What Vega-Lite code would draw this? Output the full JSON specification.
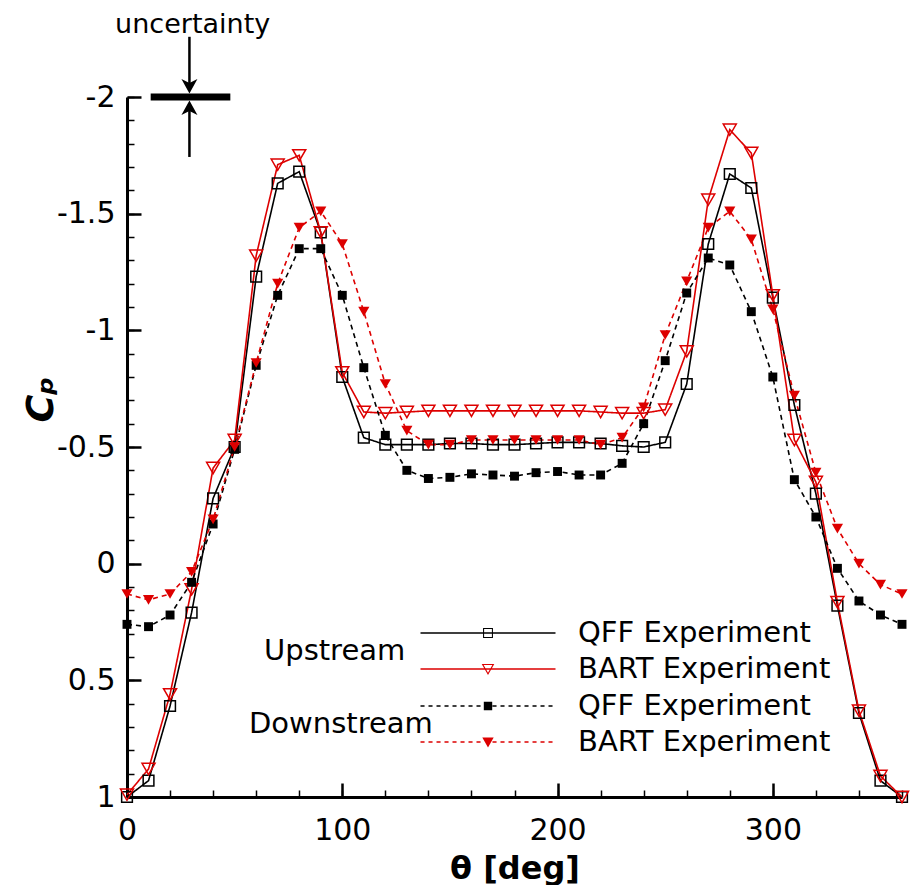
{
  "$schema": "https://vega.github.io/schema/vega-lite/v6.json",
  "width": 775,
  "height": 700,
  "autosize": "none",
  "padding": {"left": 127, "top": 97, "right": 12, "bottom": 88},
  "background": "white",
  "config": {"view": {"stroke": null}, "font": "DejaVu Sans"},
  "datasets": {
    "cp": [
      {"theta":0,"cp":1.0,"source":"QFF Experiment","location":"Upstream"},
      {"theta":10,"cp":0.93,"source":"QFF Experiment","location":"Upstream"},
      {"theta":20,"cp":0.61,"source":"QFF Experiment","location":"Upstream"},
      {"theta":30,"cp":0.21,"source":"QFF Experiment","location":"Upstream"},
      {"theta":40,"cp":-0.28,"source":"QFF Experiment","location":"Upstream"},
      {"theta":50,"cp":-0.5,"source":"QFF Experiment","location":"Upstream"},
      {"theta":60,"cp":-1.23,"source":"QFF Experiment","location":"Upstream"},
      {"theta":70,"cp":-1.63,"source":"QFF Experiment","location":"Upstream"},
      {"theta":80,"cp":-1.68,"source":"QFF Experiment","location":"Upstream"},
      {"theta":90,"cp":-1.42,"source":"QFF Experiment","location":"Upstream"},
      {"theta":100,"cp":-0.8,"source":"QFF Experiment","location":"Upstream"},
      {"theta":110,"cp":-0.54,"source":"QFF Experiment","location":"Upstream"},
      {"theta":120,"cp":-0.51,"source":"QFF Experiment","location":"Upstream"},
      {"theta":130,"cp":-0.51,"source":"QFF Experiment","location":"Upstream"},
      {"theta":140,"cp":-0.51,"source":"QFF Experiment","location":"Upstream"},
      {"theta":150,"cp":-0.515,"source":"QFF Experiment","location":"Upstream"},
      {"theta":160,"cp":-0.515,"source":"QFF Experiment","location":"Upstream"},
      {"theta":170,"cp":-0.51,"source":"QFF Experiment","location":"Upstream"},
      {"theta":180,"cp":-0.51,"source":"QFF Experiment","location":"Upstream"},
      {"theta":190,"cp":-0.515,"source":"QFF Experiment","location":"Upstream"},
      {"theta":200,"cp":-0.52,"source":"QFF Experiment","location":"Upstream"},
      {"theta":210,"cp":-0.52,"source":"QFF Experiment","location":"Upstream"},
      {"theta":220,"cp":-0.515,"source":"QFF Experiment","location":"Upstream"},
      {"theta":230,"cp":-0.505,"source":"QFF Experiment","location":"Upstream"},
      {"theta":240,"cp":-0.5,"source":"QFF Experiment","location":"Upstream"},
      {"theta":250,"cp":-0.52,"source":"QFF Experiment","location":"Upstream"},
      {"theta":260,"cp":-0.77,"source":"QFF Experiment","location":"Upstream"},
      {"theta":270,"cp":-1.37,"source":"QFF Experiment","location":"Upstream"},
      {"theta":280,"cp":-1.67,"source":"QFF Experiment","location":"Upstream"},
      {"theta":290,"cp":-1.61,"source":"QFF Experiment","location":"Upstream"},
      {"theta":300,"cp":-1.14,"source":"QFF Experiment","location":"Upstream"},
      {"theta":310,"cp":-0.68,"source":"QFF Experiment","location":"Upstream"},
      {"theta":320,"cp":-0.3,"source":"QFF Experiment","location":"Upstream"},
      {"theta":330,"cp":0.18,"source":"QFF Experiment","location":"Upstream"},
      {"theta":340,"cp":0.64,"source":"QFF Experiment","location":"Upstream"},
      {"theta":350,"cp":0.93,"source":"QFF Experiment","location":"Upstream"},
      {"theta":360,"cp":1.0,"source":"QFF Experiment","location":"Upstream"},

      {"theta":0,"cp":0.99,"source":"BART Experiment","location":"Upstream"},
      {"theta":10,"cp":0.88,"source":"BART Experiment","location":"Upstream"},
      {"theta":20,"cp":0.56,"source":"BART Experiment","location":"Upstream"},
      {"theta":30,"cp":0.11,"source":"BART Experiment","location":"Upstream"},
      {"theta":40,"cp":-0.41,"source":"BART Experiment","location":"Upstream"},
      {"theta":50,"cp":-0.53,"source":"BART Experiment","location":"Upstream"},
      {"theta":60,"cp":-1.32,"source":"BART Experiment","location":"Upstream"},
      {"theta":70,"cp":-1.71,"source":"BART Experiment","location":"Upstream"},
      {"theta":80,"cp":-1.75,"source":"BART Experiment","location":"Upstream"},
      {"theta":90,"cp":-1.42,"source":"BART Experiment","location":"Upstream"},
      {"theta":100,"cp":-0.82,"source":"BART Experiment","location":"Upstream"},
      {"theta":110,"cp":-0.65,"source":"BART Experiment","location":"Upstream"},
      {"theta":120,"cp":-0.645,"source":"BART Experiment","location":"Upstream"},
      {"theta":130,"cp":-0.65,"source":"BART Experiment","location":"Upstream"},
      {"theta":140,"cp":-0.655,"source":"BART Experiment","location":"Upstream"},
      {"theta":150,"cp":-0.655,"source":"BART Experiment","location":"Upstream"},
      {"theta":160,"cp":-0.655,"source":"BART Experiment","location":"Upstream"},
      {"theta":170,"cp":-0.655,"source":"BART Experiment","location":"Upstream"},
      {"theta":180,"cp":-0.655,"source":"BART Experiment","location":"Upstream"},
      {"theta":190,"cp":-0.655,"source":"BART Experiment","location":"Upstream"},
      {"theta":200,"cp":-0.655,"source":"BART Experiment","location":"Upstream"},
      {"theta":210,"cp":-0.655,"source":"BART Experiment","location":"Upstream"},
      {"theta":220,"cp":-0.65,"source":"BART Experiment","location":"Upstream"},
      {"theta":230,"cp":-0.645,"source":"BART Experiment","location":"Upstream"},
      {"theta":240,"cp":-0.645,"source":"BART Experiment","location":"Upstream"},
      {"theta":250,"cp":-0.66,"source":"BART Experiment","location":"Upstream"},
      {"theta":260,"cp":-0.91,"source":"BART Experiment","location":"Upstream"},
      {"theta":270,"cp":-1.56,"source":"BART Experiment","location":"Upstream"},
      {"theta":280,"cp":-1.86,"source":"BART Experiment","location":"Upstream"},
      {"theta":290,"cp":-1.76,"source":"BART Experiment","location":"Upstream"},
      {"theta":300,"cp":-1.15,"source":"BART Experiment","location":"Upstream"},
      {"theta":310,"cp":-0.53,"source":"BART Experiment","location":"Upstream"},
      {"theta":320,"cp":-0.35,"source":"BART Experiment","location":"Upstream"},
      {"theta":330,"cp":0.165,"source":"BART Experiment","location":"Upstream"},
      {"theta":340,"cp":0.63,"source":"BART Experiment","location":"Upstream"},
      {"theta":350,"cp":0.91,"source":"BART Experiment","location":"Upstream"},
      {"theta":360,"cp":1.0,"source":"BART Experiment","location":"Upstream"},

      {"theta":0,"cp":0.26,"source":"QFF Experiment","location":"Downstream"},
      {"theta":10,"cp":0.27,"source":"QFF Experiment","location":"Downstream"},
      {"theta":20,"cp":0.22,"source":"QFF Experiment","location":"Downstream"},
      {"theta":30,"cp":0.08,"source":"QFF Experiment","location":"Downstream"},
      {"theta":40,"cp":-0.17,"source":"QFF Experiment","location":"Downstream"},
      {"theta":50,"cp":-0.49,"source":"QFF Experiment","location":"Downstream"},
      {"theta":60,"cp":-0.85,"source":"QFF Experiment","location":"Downstream"},
      {"theta":70,"cp":-1.15,"source":"QFF Experiment","location":"Downstream"},
      {"theta":80,"cp":-1.35,"source":"QFF Experiment","location":"Downstream"},
      {"theta":90,"cp":-1.35,"source":"QFF Experiment","location":"Downstream"},
      {"theta":100,"cp":-1.15,"source":"QFF Experiment","location":"Downstream"},
      {"theta":110,"cp":-0.84,"source":"QFF Experiment","location":"Downstream"},
      {"theta":120,"cp":-0.55,"source":"QFF Experiment","location":"Downstream"},
      {"theta":130,"cp":-0.4,"source":"QFF Experiment","location":"Downstream"},
      {"theta":140,"cp":-0.365,"source":"QFF Experiment","location":"Downstream"},
      {"theta":150,"cp":-0.37,"source":"QFF Experiment","location":"Downstream"},
      {"theta":160,"cp":-0.385,"source":"QFF Experiment","location":"Downstream"},
      {"theta":170,"cp":-0.38,"source":"QFF Experiment","location":"Downstream"},
      {"theta":180,"cp":-0.375,"source":"QFF Experiment","location":"Downstream"},
      {"theta":190,"cp":-0.39,"source":"QFF Experiment","location":"Downstream"},
      {"theta":200,"cp":-0.395,"source":"QFF Experiment","location":"Downstream"},
      {"theta":210,"cp":-0.38,"source":"QFF Experiment","location":"Downstream"},
      {"theta":220,"cp":-0.38,"source":"QFF Experiment","location":"Downstream"},
      {"theta":230,"cp":-0.43,"source":"QFF Experiment","location":"Downstream"},
      {"theta":240,"cp":-0.6,"source":"QFF Experiment","location":"Downstream"},
      {"theta":250,"cp":-0.87,"source":"QFF Experiment","location":"Downstream"},
      {"theta":260,"cp":-1.16,"source":"QFF Experiment","location":"Downstream"},
      {"theta":270,"cp":-1.31,"source":"QFF Experiment","location":"Downstream"},
      {"theta":280,"cp":-1.28,"source":"QFF Experiment","location":"Downstream"},
      {"theta":290,"cp":-1.08,"source":"QFF Experiment","location":"Downstream"},
      {"theta":300,"cp":-0.8,"source":"QFF Experiment","location":"Downstream"},
      {"theta":310,"cp":-0.36,"source":"QFF Experiment","location":"Downstream"},
      {"theta":320,"cp":-0.2,"source":"QFF Experiment","location":"Downstream"},
      {"theta":330,"cp":0.02,"source":"QFF Experiment","location":"Downstream"},
      {"theta":340,"cp":0.16,"source":"QFF Experiment","location":"Downstream"},
      {"theta":350,"cp":0.22,"source":"QFF Experiment","location":"Downstream"},
      {"theta":360,"cp":0.26,"source":"QFF Experiment","location":"Downstream"},

      {"theta":0,"cp":0.13,"source":"BART Experiment","location":"Downstream"},
      {"theta":10,"cp":0.155,"source":"BART Experiment","location":"Downstream"},
      {"theta":20,"cp":0.13,"source":"BART Experiment","location":"Downstream"},
      {"theta":30,"cp":0.035,"source":"BART Experiment","location":"Downstream"},
      {"theta":40,"cp":-0.19,"source":"BART Experiment","location":"Downstream"},
      {"theta":50,"cp":-0.5,"source":"BART Experiment","location":"Downstream"},
      {"theta":60,"cp":-0.86,"source":"BART Experiment","location":"Downstream"},
      {"theta":70,"cp":-1.2,"source":"BART Experiment","location":"Downstream"},
      {"theta":80,"cp":-1.44,"source":"BART Experiment","location":"Downstream"},
      {"theta":90,"cp":-1.51,"source":"BART Experiment","location":"Downstream"},
      {"theta":100,"cp":-1.37,"source":"BART Experiment","location":"Downstream"},
      {"theta":110,"cp":-1.08,"source":"BART Experiment","location":"Downstream"},
      {"theta":120,"cp":-0.77,"source":"BART Experiment","location":"Downstream"},
      {"theta":130,"cp":-0.57,"source":"BART Experiment","location":"Downstream"},
      {"theta":140,"cp":-0.51,"source":"BART Experiment","location":"Downstream"},
      {"theta":150,"cp":-0.51,"source":"BART Experiment","location":"Downstream"},
      {"theta":160,"cp":-0.53,"source":"BART Experiment","location":"Downstream"},
      {"theta":170,"cp":-0.53,"source":"BART Experiment","location":"Downstream"},
      {"theta":180,"cp":-0.53,"source":"BART Experiment","location":"Downstream"},
      {"theta":190,"cp":-0.53,"source":"BART Experiment","location":"Downstream"},
      {"theta":200,"cp":-0.53,"source":"BART Experiment","location":"Downstream"},
      {"theta":210,"cp":-0.53,"source":"BART Experiment","location":"Downstream"},
      {"theta":220,"cp":-0.51,"source":"BART Experiment","location":"Downstream"},
      {"theta":230,"cp":-0.54,"source":"BART Experiment","location":"Downstream"},
      {"theta":240,"cp":-0.67,"source":"BART Experiment","location":"Downstream"},
      {"theta":250,"cp":-0.98,"source":"BART Experiment","location":"Downstream"},
      {"theta":260,"cp":-1.21,"source":"BART Experiment","location":"Downstream"},
      {"theta":270,"cp":-1.44,"source":"BART Experiment","location":"Downstream"},
      {"theta":280,"cp":-1.51,"source":"BART Experiment","location":"Downstream"},
      {"theta":290,"cp":-1.39,"source":"BART Experiment","location":"Downstream"},
      {"theta":300,"cp":-1.09,"source":"BART Experiment","location":"Downstream"},
      {"theta":310,"cp":-0.72,"source":"BART Experiment","location":"Downstream"},
      {"theta":320,"cp":-0.39,"source":"BART Experiment","location":"Downstream"},
      {"theta":330,"cp":-0.15,"source":"BART Experiment","location":"Downstream"},
      {"theta":340,"cp":0.0,"source":"BART Experiment","location":"Downstream"},
      {"theta":350,"cp":0.09,"source":"BART Experiment","location":"Downstream"},
      {"theta":360,"cp":0.13,"source":"BART Experiment","location":"Downstream"}
    ]
  },
  "data": {"name": "cp"},
  "layer": [
    {
      "mark": {"type": "line", "strokeWidth": 1.6},
      "encoding": {
        "x": {
          "field": "theta", "type": "quantitative",
          "scale": {"domain": [0, 360], "nice": false, "zero": false},
          "axis": {
            "orient": "bottom", "values": [0, 100, 200, 300], "grid": false,
            "tickSize": -14, "tickWidth": 2.5, "tickColor": "black",
            "domainColor": "black", "domainWidth": 3,
            "labelFont": "DejaVu Sans", "labelFontSize": 30, "labelColor": "black",
            "labelPadding": 32, "labelFlush": false, "labelOverlap": false,
            "title": "θ [deg]", "titleFont": "DejaVu Sans", "titleFontSize": 32,
            "titleFontWeight": "bold", "titleColor": "black",
            "titleBaseline": "alphabetic", "titleY": 81
          }
        },
        "y": {
          "field": "cp", "type": "quantitative",
          "scale": {"domain": [-2, 1], "reverse": true, "nice": false, "zero": false},
          "axis": {
            "orient": "left", "values": [-2, -1.5, -1, -0.5, 0, 0.5, 1], "grid": false,
            "tickSize": -14, "tickWidth": 2.5, "tickColor": "black",
            "domainColor": "black", "domainWidth": 3,
            "labelFont": "DejaVu Sans", "labelFontSize": 30, "labelColor": "black",
            "labelPadding": 26, "labelFlush": false, "labelOverlap": false,
            "labelExpr": "datum.value < 0 ? '-' + format(-datum.value, '') : format(datum.value, '')",
            "title": "Cₚ", "titleFont": "DejaVu Sans", "titleFontSize": 38,
            "titleFontStyle": "italic", "titleFontWeight": "bold", "titleColor": "black",
            "titleAngle": 270, "titleAlign": "center", "titleBaseline": "alphabetic",
            "titleX": -75, "titleY": 302
          }
        },
        "color": {
          "field": "source", "type": "nominal",
          "scale": {"domain": ["QFF Experiment", "BART Experiment"], "range": ["black", "#dd0000"]},
          "legend": null
        },
        "strokeDash": {
          "field": "location", "type": "nominal",
          "scale": {"domain": ["Upstream", "Downstream"], "range": [[1, 0], [5, 4]]},
          "legend": null
        }
      }
    },
    {
      "transform": [{"filter": "datum.location == 'Upstream'"}],
      "mark": {"type": "point", "filled": false, "strokeWidth": 1.5, "opacity": 1},
      "encoding": {
        "x": {
          "field": "theta", "type": "quantitative",
          "axis": {
            "orient": "bottom", "values": [0,20,40,60,80,100,120,140,160,180,200,220,240,260,280,300,320,340,360],
            "grid": false, "labels": false, "domain": false, "title": null,
            "tickSize": -7, "tickWidth": 1.5, "tickColor": "black"
          }
        },
        "y": {
          "field": "cp", "type": "quantitative",
          "axis": {
            "orient": "left", "values": [-2,-1.9,-1.8,-1.7,-1.6,-1.5,-1.4,-1.3,-1.2,-1.1,-1,-0.9,-0.8,-0.7,-0.6,-0.5,-0.4,-0.3,-0.2,-0.1,0,0.1,0.2,0.3,0.4,0.5,0.6,0.7,0.8,0.9,1],
            "grid": false, "labels": false, "domain": false, "title": null,
            "tickSize": -7, "tickWidth": 1.5, "tickColor": "black"
          }
        },
        "color": {
          "field": "source", "type": "nominal",
          "scale": {"domain": ["QFF Experiment", "BART Experiment"], "range": ["black", "#dd0000"]},
          "legend": null
        },
        "shape": {
          "field": "source", "type": "nominal",
          "scale": {"domain": ["QFF Experiment", "BART Experiment"], "range": ["square", "triangle-down"]},
          "legend": null
        },
        "size": {
          "field": "source", "type": "nominal",
          "scale": {"domain": ["QFF Experiment", "BART Experiment"], "range": [115, 170]},
          "legend": null
        }
      }
    },
    {
      "transform": [{"filter": "datum.location == 'Downstream'"}],
      "mark": {"type": "point", "filled": true, "opacity": 1},
      "encoding": {
        "x": {"field": "theta", "type": "quantitative", "axis": null},
        "y": {"field": "cp", "type": "quantitative", "axis": null},
        "color": {
          "field": "source", "type": "nominal",
          "scale": {"domain": ["QFF Experiment", "BART Experiment"], "range": ["black", "#dd0000"]},
          "legend": null
        },
        "shape": {
          "field": "source", "type": "nominal",
          "scale": {"domain": ["QFF Experiment", "BART Experiment"], "range": ["square", "triangle-down"]},
          "legend": null
        },
        "size": {
          "field": "source", "type": "nominal",
          "scale": {"domain": ["QFF Experiment", "BART Experiment"], "range": [80, 125]},
          "legend": null
        }
      }
    },
    {
      "transform": [{"filter": "false"}],
      "mark": {"type": "point", "filled": true, "opacity": 1, "size": 900},
      "encoding": {
        "color": {
          "field": "source", "type": "nominal",
          "scale": {"domain": ["QFF Experiment", "BART Experiment"], "range": ["black", "#dd0000"]},
          "legend": {
            "title": "Upstream", "orient": "none", "legendX": 137, "legendY": 521,
            "titleOrient": "left", "titleAnchor": "middle", "titleBaseline": "middle", "titlePadding": 67,
            "titleFont": "DejaVu Sans", "titleFontSize": 29, "titleFontWeight": "normal", "titleColor": "black", "titleLimit": 400,
            "labelFont": "DejaVu Sans", "labelFontSize": 29, "labelColor": "black", "labelLimit": 400, "labelOffset": 75,
            "symbolSize": 900, "symbolStrokeWidth": 0, "rowPadding": 6, "padding": 0
          }
        },
        "shape": {
          "field": "source", "type": "nominal",
          "scale": {"domain": ["QFF Experiment", "BART Experiment"], "range": [
            "M-4.5,-0.05H4.5V0.05H-4.5Z M-0.33,-0.33H0.33V0.33H-0.33Z M-0.26,-0.26V0.26H0.26V-0.26Z",
            "M-4.5,-0.05H4.5V0.05H-4.5Z M-0.42,-0.34H0.42L0,0.4Z M-0.29,-0.27L0,0.25L0.29,-0.27Z"
          ]},
          "legend": {
            "title": "Upstream", "orient": "none", "legendX": 137, "legendY": 521,
            "titleOrient": "left", "titleAnchor": "middle", "titleBaseline": "middle", "titlePadding": 67,
            "titleFont": "DejaVu Sans", "titleFontSize": 29, "titleFontWeight": "normal", "titleColor": "black", "titleLimit": 400,
            "labelFont": "DejaVu Sans", "labelFontSize": 29, "labelColor": "black", "labelLimit": 400, "labelOffset": 75,
            "symbolSize": 900, "symbolStrokeWidth": 0, "rowPadding": 6, "padding": 0
          }
        }
      }
    },
    {
      "transform": [{"filter": "false"}],
      "mark": {"type": "point", "filled": true, "opacity": 1, "size": 900},
      "encoding": {
        "color": {
          "field": "source", "type": "nominal",
          "scale": {"domain": ["QFF Experiment", "BART Experiment"], "range": ["black", "#dd0000"]},
          "legend": {
            "title": "Downstream", "orient": "none", "legendX": 122, "legendY": 594,
            "titleOrient": "left", "titleAnchor": "middle", "titleBaseline": "middle", "titlePadding": 40,
            "titleFont": "DejaVu Sans", "titleFontSize": 29, "titleFontWeight": "normal", "titleColor": "black", "titleLimit": 400,
            "labelFont": "DejaVu Sans", "labelFontSize": 29, "labelColor": "black", "labelLimit": 400, "labelOffset": 75,
            "symbolSize": 900, "symbolStrokeWidth": 0, "rowPadding": 6, "padding": 0
          }
        },
        "shape": {
          "field": "source", "type": "nominal",
          "scale": {"domain": ["QFF Experiment", "BART Experiment"], "range": [
            "M-4.5,-0.05h0.27v0.1h-0.27z M-3.967,-0.05h0.27v0.1h-0.27z M-3.433,-0.05h0.27v0.1h-0.27z M-2.9,-0.05h0.27v0.1h-0.27z M-2.367,-0.05h0.27v0.1h-0.27z M-1.833,-0.05h0.27v0.1h-0.27z M-1.3,-0.05h0.27v0.1h-0.27z M-0.767,-0.05h0.27v0.1h-0.27z M0.3,-0.05h0.27v0.1h-0.27z M0.833,-0.05h0.27v0.1h-0.27z M1.367,-0.05h0.27v0.1h-0.27z M1.9,-0.05h0.27v0.1h-0.27z M2.433,-0.05h0.27v0.1h-0.27z M2.967,-0.05h0.27v0.1h-0.27z M3.5,-0.05h0.27v0.1h-0.27z M4.033,-0.05h0.27v0.1h-0.27z M-0.28,-0.28H0.28V0.28H-0.28Z",
            "M-4.5,-0.05h0.27v0.1h-0.27z M-3.967,-0.05h0.27v0.1h-0.27z M-3.433,-0.05h0.27v0.1h-0.27z M-2.9,-0.05h0.27v0.1h-0.27z M-2.367,-0.05h0.27v0.1h-0.27z M-1.833,-0.05h0.27v0.1h-0.27z M-1.3,-0.05h0.27v0.1h-0.27z M-0.767,-0.05h0.27v0.1h-0.27z M0.3,-0.05h0.27v0.1h-0.27z M0.833,-0.05h0.27v0.1h-0.27z M1.367,-0.05h0.27v0.1h-0.27z M1.9,-0.05h0.27v0.1h-0.27z M2.433,-0.05h0.27v0.1h-0.27z M2.967,-0.05h0.27v0.1h-0.27z M3.5,-0.05h0.27v0.1h-0.27z M4.033,-0.05h0.27v0.1h-0.27z M-0.38,-0.3H0.38L0,0.36Z"
          ]},
          "legend": {
            "title": "Downstream", "orient": "none", "legendX": 122, "legendY": 594,
            "titleOrient": "left", "titleAnchor": "middle", "titleBaseline": "middle", "titlePadding": 40,
            "titleFont": "DejaVu Sans", "titleFontSize": 29, "titleFontWeight": "normal", "titleColor": "black", "titleLimit": 400,
            "labelFont": "DejaVu Sans", "labelFontSize": 29, "labelColor": "black", "labelLimit": 400, "labelOffset": 75,
            "symbolSize": 900, "symbolStrokeWidth": 0, "rowPadding": 6, "padding": 0
          }
        }
      }
    },
    {
      "data": {"values": [{}]},
      "mark": {"type": "rule", "strokeWidth": 7, "color": "black"},
      "encoding": {
        "x": {"datum": 11, "type": "quantitative", "axis": null},
        "x2": {"datum": 48},
        "y": {"datum": -2, "type": "quantitative", "axis": null}
      }
    },
    {
      "data": {"values": [{}]},
      "mark": {"type": "rule", "strokeWidth": 2.5, "color": "black"},
      "encoding": {
        "x": {"datum": 29, "type": "quantitative", "axis": null},
        "y": {"datum": -2.258, "type": "quantitative", "axis": null},
        "y2": {"datum": -2.03}
      }
    },
    {
      "data": {"values": [{}]},
      "mark": {"type": "rule", "strokeWidth": 2.5, "color": "black"},
      "encoding": {
        "x": {"datum": 29, "type": "quantitative", "axis": null},
        "y": {"datum": -1.97, "type": "quantitative", "axis": null},
        "y2": {"datum": -1.743}
      }
    },
    {
      "data": {"values": [{}]},
      "mark": {"type": "point", "filled": true, "opacity": 1, "color": "black", "size": 256, "shape": "M0,0L-1,-1.8L0,-1.3L1,-1.8Z"},
      "encoding": {
        "x": {"datum": 29, "type": "quantitative", "axis": null},
        "y": {"datum": -2.015, "type": "quantitative", "axis": null}
      }
    },
    {
      "data": {"values": [{}]},
      "mark": {"type": "point", "filled": true, "opacity": 1, "color": "black", "size": 256, "shape": "M0,0L-1,1.8L0,1.3L1,1.8Z"},
      "encoding": {
        "x": {"datum": 29, "type": "quantitative", "axis": null},
        "y": {"datum": -1.985, "type": "quantitative", "axis": null}
      }
    },
    {
      "data": {"values": [{}]},
      "mark": {"type": "text", "text": "uncertainty", "font": "DejaVu Sans", "fontSize": 27, "align": "center", "baseline": "alphabetic", "color": "black"},
      "encoding": {
        "x": {"datum": 30.5, "type": "quantitative", "axis": null},
        "y": {"datum": -2.274, "type": "quantitative", "axis": null}
      }
    }
  ],
  "resolve": {
    "scale": {"color": "independent", "shape": "independent", "size": "independent", "strokeDash": "independent"},
    "axis": {"x": "independent", "y": "independent"}
  }
}
